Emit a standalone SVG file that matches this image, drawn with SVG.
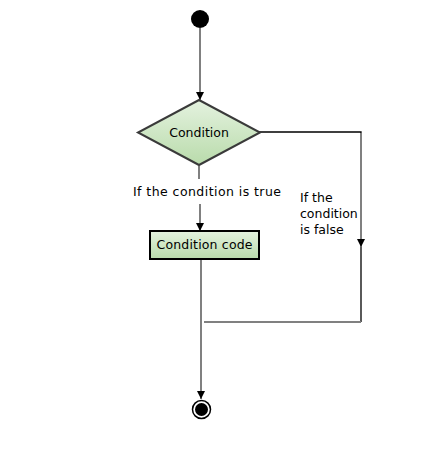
<svg xmlns="http://www.w3.org/2000/svg" width="430" height="455" viewBox="0 0 430 455">
<defs>
<linearGradient id="g" x1="0" y1="0" x2="0" y2="1">
<stop offset="0" stop-color="#e4f2df"/>
<stop offset="1" stop-color="#b9dbab"/>
</linearGradient>
<marker id="ah" viewBox="0 0 10 10" refX="10" refY="5" markerWidth="8" markerHeight="8" markerUnits="userSpaceOnUse" orient="auto">
<path d="M0,0 L10,5 L0,10 z" fill="#000"/>
</marker>
<style>
text{font-family:"DejaVu Sans","Liberation Sans",sans-serif;font-size:12.5px;fill:#000}
.g{stroke:#808080;stroke-width:2;fill:none}
.k{stroke:#000;stroke-width:1.3;fill:none}
</style>
</defs>
<rect width="430" height="455" fill="#fff"/>
<g id="connectors">
<line class="g" x1="200" y1="28" x2="200" y2="100" marker-end="url(#ah)"/>
<line class="g" x1="199" y1="166" x2="199" y2="179"/>
<line class="g" x1="200" y1="204" x2="200" y2="231" marker-end="url(#ah)"/>
<line class="g" x1="201" y1="260" x2="201" y2="399" marker-end="url(#ah)"/>
<polyline class="k" points="259,132 361,132 361,134"/>
<line class="g" x1="361" y1="133" x2="361" y2="247" marker-end="url(#ah)"/>
<line class="k" x1="361" y1="247" x2="361" y2="322"/>
<line class="g" x1="361" y1="322" x2="204" y2="322"/>
<text x="133" y="196" textLength="148">If the condition is true</text>
<text x="300" y="202">If the</text>
<text x="300" y="218">condition</text>
<text x="300" y="234">is false</text>
</g>
<g id="start"><circle cx="200" cy="19" r="9" fill="#000"/></g>
<g id="condition">
<polygon points="199,100 260,132.5 199,165 138,132.5" fill="url(#g)" stroke="#3a3a3a" stroke-width="2"/>
<text x="199" y="137" text-anchor="middle">Condition</text>
</g>
<g id="code">
<rect x="150" y="231" width="109" height="28" fill="url(#g)" stroke="#000" stroke-width="2"/>
<text x="204.5" y="249" text-anchor="middle" textLength="96">Condition code</text>
</g>
<g id="end">
<circle cx="201.5" cy="409.5" r="9" fill="#fff" stroke="#000" stroke-width="1.5"/>
<circle cx="201.5" cy="409.5" r="6.5" fill="#000"/>
</g>
</svg>
